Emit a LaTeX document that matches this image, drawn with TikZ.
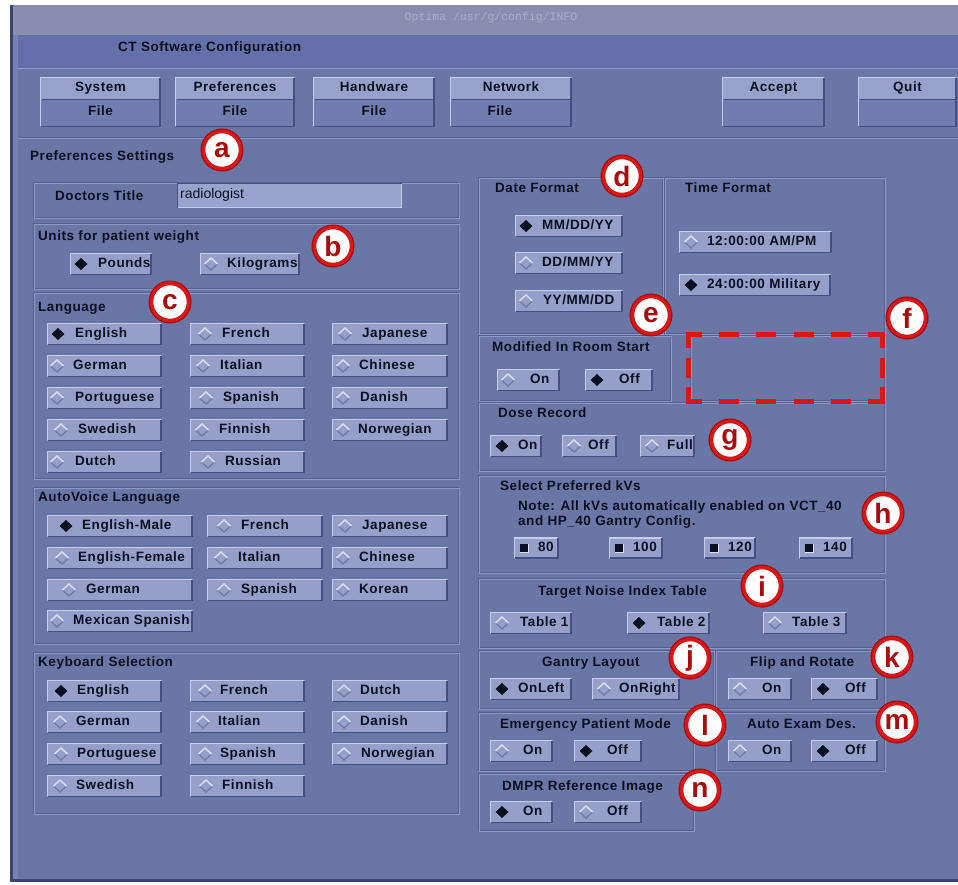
\documentclass[tikz,border=0pt]{standalone}
\usepackage{fontspec}
\setmainfont{Liberation Sans}
\newfontfamily\uifont{Liberation Sans}[LetterSpace=4]
\newfontfamily\pathfont{Liberation Mono}

\definecolor{screen}{HTML}{6A76A6}
\definecolor{titlebar}{HTML}{8A8EAE}
\definecolor{titletext}{HTML}{A9ADC8}
\definecolor{band}{HTML}{6470AA}
\definecolor{framedk}{HTML}{3C4470}
\definecolor{framelt}{HTML}{7882B2}
\definecolor{btnface}{HTML}{959FC9}
\definecolor{tbtop}{HTML}{97A1CB}
\definecolor{tbbot}{HTML}{717DB0}
\definecolor{btnhi}{HTML}{C6CCEA}
\definecolor{btnlo}{HTML}{454F84}
\definecolor{etchhi}{HTML}{8D98C6}
\definecolor{etchlo}{HTML}{56618F}
\definecolor{diahi}{HTML}{DCE0F2}
\definecolor{dialo}{HTML}{737CA8}
\definecolor{fieldbg}{HTML}{99A3CD}
\definecolor{ink}{HTML}{0C0F22}
\definecolor{calloutred}{HTML}{D81818}
\definecolor{calloutdk}{HTML}{A80C0C}

\tikzset{
  uilbl/.style={font=\uifont\fontsize{13.5}{15}\selectfont\bfseries, text=ink,
    inner sep=0pt, text height=10pt, text depth=3pt},
  fieldtxt/.style={font=\fontsize{14}{16}\selectfont, text=ink, inner sep=0pt},
  btnlite/.style={draw=btnhi, line width=1.3pt},
  btnshade/.style={draw=btnlo, line width=1.6pt},
  callout/.style={circle, minimum size=37pt, inner sep=0pt, fill=white,
    draw=calloutred, line width=3.5pt, preaction={draw=calloutdk, line width=6pt},
    font=\fontsize{28}{28}\selectfont\bfseries, text=calloutdk},
}

% etched group frame: x1 y1 x2 y2
\newcommand\uipanel[4]{%
  \draw[etchlo, line width=1pt] (#1,#2) rectangle (#3,#4);
  \draw[etchhi, line width=1pt] (#1+1.2,#2+1.2) rectangle (#3+1.2,#4+1.2);
}

% radio button: name, x1, x2, y centre, diamond offset, text offset, label, selected
\newcommand\radiobtn[8]{%
  \fill[btnface] (#2,#4-11) rectangle (#3,#4+11);
  \draw[btnlite] (#2+0.6,#4+10.4) -- (#2+0.6,#4-10.4) -- (#3-0.6,#4-10.4);
  \draw[btnshade] (#2+0.6,#4+10.4) -- (#3-0.8,#4+10.4) -- (#3-0.8,#4-10.4);
  \ifnum#8=1\relax
    \fill[ink] (#2+#5-6.5,#4) -- (#2+#5,#4-6) -- (#2+#5+6.5,#4) -- (#2+#5,#4+6) -- cycle;
  \else
    \draw[dialo, line width=1.4pt] (#2+#5-6.5,#4) -- (#2+#5,#4+6) -- (#2+#5+6.5,#4);
    \draw[diahi, line width=1.4pt] (#2+#5-6.5,#4) -- (#2+#5,#4-6) -- (#2+#5+6.5,#4);
  \fi
  \node[uilbl, anchor=west] (#1) at (#2+#6,#4) {#7};
}

% check button: name, x1, x2, y centre, label
\newcommand\kvbox[5]{%
  \fill[btnface] (#2,#4-10.5) rectangle (#3,#4+10.5);
  \draw[btnlite] (#2+0.6,#4+9.9) -- (#2+0.6,#4-9.9) -- (#3-0.6,#4-9.9);
  \draw[btnshade] (#2+0.6,#4+9.9) -- (#3-0.8,#4+9.9) -- (#3-0.8,#4-9.9);
  \fill[ink] (#2+5.5,#4-4.5) rectangle (#2+14.5,#4+4.5);
  \draw[diahi, line width=0.8pt] (#2+5.5,#4+4.5) -- (#2+14.5,#4+4.5) -- (#2+14.5,#4-4.5);
  \node[uilbl, anchor=west] (#1) at (#2+24,#4) {#5};
}

% two-part tool button: name, x1, x2, caption
\newcommand\toolbtn[4]{%
  \fill[tbtop] (#2,77) rectangle (#3,99);
  \fill[tbbot] (#2,99) rectangle (#3,127);
  \draw[btnlite] (#2+0.6,126.4) -- (#2+0.6,77.6) -- (#3-0.6,77.6);
  \draw[btnshade] (#2+0.6,126.4) -- (#3-0.8,126.4) -- (#3-0.8,77.6);
  \draw[btnlo, line width=0.8pt] (#2+1.5,99) -- (#3-1.5,99);
  \node[uilbl] (#1) at ({(#2+#3)/2},88) {#4};
}

\begin{document}
\begin{tikzpicture}[x=1pt,y=-1pt]
\useasboundingbox (0,0) rectangle (958,884);

% window body
\fill[white] (0,0) rectangle (958,884);
\fill[screen] (12,5) rectangle (958,879);
\fill[titlebar] (12,5) rectangle (958,35);
\fill[band] (12,35) rectangle (958,68);
\fill[framelt] (12.5,35) rectangle (18,879);
\draw[etchhi, line width=1.2pt] (18,68.5) -- (958,68.5);
\draw[etchlo, line width=1pt] (18,137) -- (958,137);
\draw[etchhi, line width=1.2pt] (18,138.8) -- (958,138.8);
\fill[framedk] (10,5) rectangle (12.5,882);
\fill[framedk] (10,879) rectangle (958,882);

% title and header
\node[font=\pathfont\fontsize{11.5}{12}\selectfont, text=titletext, inner sep=0pt] (wintitle) at (491,18) {Optima /usr/g/config/INFO};
\node[uilbl, anchor=west] (hdr) at (118,48) {CT Software Configuration};

% tool buttons
\toolbtn{tb-sys}{40}{161}{System}
\toolbtn{tb-pref}{175}{295}{Preferences}
\toolbtn{tb-hw}{313}{435}{Handware}
\toolbtn{tb-net}{450}{572}{Network}
\toolbtn{tb-acc}{722}{825}{Accept}
\toolbtn{tb-quit}{858}{957}{Quit}
\node[uilbl] (tb-sys-file) at (100.5,112) {File};
\node[uilbl] (tb-pref-file) at (235,112) {File};
\node[uilbl] (tb-hw-file) at (374,112) {File};
\node[uilbl] (tb-net-file) at (500,112) {File};

\node[uilbl, anchor=west] (prefset) at (30,157) {Preferences Settings};

% left column groups
\uipanel{33}{182}{458}{217}
\uipanel{33}{223}{458}{288}
\uipanel{33}{292}{458}{478}
\uipanel{33}{487}{458}{643}
\uipanel{33}{652}{458}{813}

% right column groups
\uipanel{478}{177}{662}{333}
\uipanel{664}{177}{884}{333}
\uipanel{478}{335}{670}{400}
\uipanel{690}{335}{884}{400}
\uipanel{478}{402}{884}{470}
\uipanel{478}{475}{884}{572}
\uipanel{478}{578}{884}{647}
\uipanel{478}{650}{713}{708}
\uipanel{715}{650}{884}{708}
\uipanel{478}{712}{693}{770}
\uipanel{715}{712}{884}{770}
\uipanel{478}{773}{693}{830}

% doctors title
\node[uilbl, anchor=west] (doc-lbl) at (55,197) {Doctors Title};
\fill[fieldbg] (177,183) rectangle (402,208);
\draw[btnlo, line width=1pt] (177.5,207.5) -- (177.5,183.5) -- (401.5,183.5);
\draw[btnhi, line width=1.2pt] (177.5,207.5) -- (401.5,207.5) -- (401.5,183.5);
\node[fieldtxt, anchor=west] (doc-val) at (180,195) {radiologist};

% units
\node[uilbl, anchor=west] (wt-lbl) at (38,237) {Units for patient weight};
\radiobtn{wt-lb}{70}{152}{264}{11}{28}{Pounds}{1}
\radiobtn{wt-kg}{200}{300}{264}{11}{27}{Kilograms}{0}

% language
\node[uilbl, anchor=west] (lang-lbl) at (38,308) {Language};
\radiobtn{lang-en}{47}{162}{334}{11}{28}{English}{1}
\radiobtn{lang-fr}{190}{305}{334}{15}{32}{French}{0}
\radiobtn{lang-ja}{332}{448}{334}{13}{30}{Japanese}{0}
\radiobtn{lang-de}{47}{162}{366}{10}{26}{German}{0}
\radiobtn{lang-it}{190}{305}{366}{13}{30}{Italian}{0}
\radiobtn{lang-zh}{332}{448}{366}{11}{27}{Chinese}{0}
\radiobtn{lang-pt}{47}{162}{398}{10}{28}{Portuguese}{0}
\radiobtn{lang-es}{190}{305}{398}{16}{33}{Spanish}{0}
\radiobtn{lang-da}{332}{448}{398}{11}{28}{Danish}{0}
\radiobtn{lang-sv}{47}{162}{430}{14}{31}{Swedish}{0}
\radiobtn{lang-fi}{190}{305}{430}{12}{29}{Finnish}{0}
\radiobtn{lang-no}{332}{448}{430}{11}{26}{Norwegian}{0}
\radiobtn{lang-nl}{47}{162}{462}{10}{28}{Dutch}{0}
\radiobtn{lang-ru}{190}{305}{462}{18}{35}{Russian}{0}

% autovoice
\node[uilbl, anchor=west] (av-lbl) at (38,498) {AutoVoice Language};
\radiobtn{av-enm}{47}{193}{526}{19}{35}{English-Male}{1}
\radiobtn{av-fr}{207}{323}{526}{17}{34}{French}{0}
\radiobtn{av-ja}{332}{448}{526}{13}{30}{Japanese}{0}
\radiobtn{av-enf}{47}{193}{558}{15}{31}{English-Female}{0}
\radiobtn{av-it}{207}{323}{558}{14}{31}{Italian}{0}
\radiobtn{av-zh}{332}{448}{558}{11}{27}{Chinese}{0}
\radiobtn{av-de}{47}{193}{590}{22}{39}{German}{0}
\radiobtn{av-es}{207}{323}{590}{17}{34}{Spanish}{0}
\radiobtn{av-ko}{332}{448}{590}{11}{27}{Korean}{0}
\radiobtn{av-mx}{47}{193}{621}{10}{26}{Mexican Spanish}{0}

% keyboard
\node[uilbl, anchor=west] (kb-lbl) at (38,663) {Keyboard Selection};
\radiobtn{kb-en}{47}{162}{691}{14}{30}{English}{1}
\radiobtn{kb-fr}{190}{305}{691}{15}{30}{French}{0}
\radiobtn{kb-nl}{332}{448}{691}{12}{28}{Dutch}{0}
\radiobtn{kb-de}{47}{162}{722}{13}{29}{German}{0}
\radiobtn{kb-it}{190}{305}{722}{13}{28}{Italian}{0}
\radiobtn{kb-da}{332}{448}{722}{12}{28}{Danish}{0}
\radiobtn{kb-pt}{47}{162}{754}{14}{30}{Portuguese}{0}
\radiobtn{kb-es}{190}{305}{754}{15}{30}{Spanish}{0}
\radiobtn{kb-no}{332}{448}{754}{12}{29}{Norwegian}{0}
\radiobtn{kb-sv}{47}{162}{786}{13}{29}{Swedish}{0}
\radiobtn{kb-fi}{190}{305}{786}{16}{32}{Finnish}{0}

% date and time format
\node[uilbl, anchor=west] (df-lbl) at (495,189) {Date Format};
\radiobtn{df-mdy}{515}{623}{226}{11}{27}{MM/DD/YY}{1}
\radiobtn{df-dmy}{515}{623}{263}{11}{27}{DD/MM/YY}{0}
\radiobtn{df-ymd}{515}{623}{301}{11}{28}{YY/MM/DD}{0}
\node[uilbl, anchor=west] (tf-lbl) at (685,189) {Time Format};
\radiobtn{tf-12}{679}{832}{242}{12}{28}{12:00:00 AM/PM}{0}
\radiobtn{tf-24}{679}{831}{285}{12}{28}{24:00:00 Military}{1}

% modified in room start
\node[uilbl, anchor=west] (mirs-lbl) at (492,348) {Modified In Room Start};
\radiobtn{mirs-on}{497}{560}{380}{11}{33}{On}{0}
\radiobtn{mirs-off}{585}{653}{380}{12}{34}{Off}{1}

% dose record
\node[uilbl, anchor=west] (dose-lbl) at (498,414) {Dose Record};
\radiobtn{dose-on}{490}{542}{446}{12}{28}{On}{1}
\radiobtn{dose-off}{562}{617}{446}{12}{26}{Off}{0}
\radiobtn{dose-full}{640}{695}{446}{12}{27}{Full}{0}

% preferred kVs
\node[uilbl, anchor=west] (kv-lbl) at (500,487) {Select Preferred kVs};
\node[uilbl, anchor=west] (kv-note1) at (518,507) {Note: All kVs automatically enabled on VCT\_40};
\node[uilbl, anchor=west] (kv-note2) at (518,522) {and HP\_40 Gantry Config.};
\kvbox{kv-80}{514}{559}{548}{80}
\kvbox{kv-100}{609}{663}{548}{100}
\kvbox{kv-120}{704}{756}{548}{120}
\kvbox{kv-140}{799}{853}{548}{140}

% target noise index
\node[uilbl, anchor=west] (tn-lbl) at (538,592) {Target Noise Index Table};
\radiobtn{tn-1}{490}{572}{623}{12}{30}{Table 1}{0}
\radiobtn{tn-2}{627}{710}{623}{12}{30}{Table 2}{1}
\radiobtn{tn-3}{763}{847}{623}{12}{29}{Table 3}{0}

% gantry layout, flip and rotate
\node[uilbl, anchor=west] (gl-lbl) at (542,663) {Gantry Layout};
\radiobtn{gl-left}{490}{572}{689}{12}{28}{OnLeft}{1}
\radiobtn{gl-right}{592}{680}{689}{12}{27}{OnRight}{0}
\node[uilbl, anchor=west] (fr-lbl) at (750,663) {Flip and Rotate};
\radiobtn{fr-on}{728}{792}{689}{12}{34}{On}{0}
\radiobtn{fr-off}{811}{878}{689}{12}{34}{Off}{1}

% emergency patient mode, auto exam description
\node[uilbl, anchor=west] (epm-lbl) at (500,725) {Emergency Patient Mode};
\radiobtn{epm-on}{490}{553}{751}{12}{33}{On}{0}
\radiobtn{epm-off}{574}{642}{751}{12}{33}{Off}{1}
\node[uilbl, anchor=west] (aed-lbl) at (747,725) {Auto Exam Des.};
\radiobtn{aed-on}{728}{792}{751}{12}{34}{On}{0}
\radiobtn{aed-off}{811}{878}{751}{12}{34}{Off}{1}

% DMPR reference image
\node[uilbl, anchor=west] (dmpr-lbl) at (502,787) {DMPR Reference Image};
\radiobtn{dmpr-on}{490}{553}{812}{12}{33}{On}{1}
\radiobtn{dmpr-off}{574}{642}{812}{12}{33}{Off}{0}

% highlighted empty area: dashed frame with solid corners
\draw[draw=calloutred, line width=5pt, line join=miter,
  dash pattern=on 20pt off 17.2pt on 20pt off 17.2pt on 20pt off 17.2pt on 20pt off 17.2pt
    on 28pt off 9.5pt on 20pt off 9.5pt on 28pt off 17.2pt
    on 20pt off 17.2pt on 20pt off 17.2pt on 20pt off 17.2pt on 20pt off 17.2pt
    on 28pt off 9.5pt on 20pt off 9.5pt on 28pt off 17.2pt]
  (719.2,334) -- (882,334) -- (882,401) -- (688,401) -- (688,334) -- (719.2,334);

% callouts
\node[callout] (ca) at (222,150) {a};
\node[callout] (cb) at (333,246) {b};
\node[callout] (cc) at (170,302) {c};
\node[callout] (cd) at (622,176) {d};
\node[callout] (ce) at (651,315) {e};
\node[callout] (cf) at (907,318) {f};
\node[callout] (cg) at (730,440) {g};
\node[callout] (ch) at (883,513) {h};
\node[callout] (ci) at (762,586) {i};
\node[callout] (cj) at (690,658) {j};
\node[callout] (ck) at (892,657) {k};
\node[callout] (cl) at (705,725) {l};
\node[callout] (cm) at (897,722) {m};
\node[callout] (cn) at (700,790) {n};
\end{tikzpicture}
\end{document}
